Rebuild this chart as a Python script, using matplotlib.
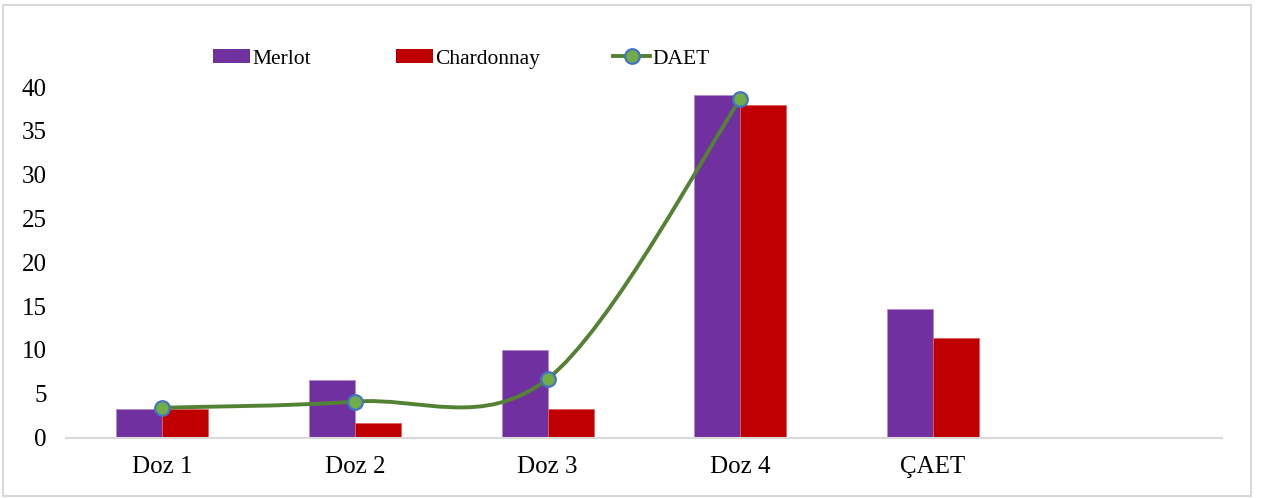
import numpy as np
import matplotlib.pyplot as plt
from matplotlib.path import Path
from matplotlib.patches import PathPatch, Rectangle
from matplotlib.lines import Line2D
from matplotlib.patches import Patch

plt.rcParams['font.family'] = ['Liberation Serif', 'DejaVu Serif']

# Data
categories = ['Doz 1', 'Doz 2', 'Doz 3', 'Doz 4', 'ÇAET', '']
merlot = [3.3, 6.6, 10.0, 39.1, 14.7]
chardonnay = [3.3, 1.6, 3.3, 37.9, 11.4]
daet = [3.4, 4.1, 6.7, 38.6]
series_names = ['Merlot', 'Chardonnay', 'DAET']

merlot_color = '#7030A0'
chard_color = '#C00000'
line_color = '#548235'
marker_face = '#70AD47'
marker_edge = '#4472C4'
FS = 18
LEG_FS = 15.5


def smooth_path(xs, ys):
    """Cubic Bezier path through the points (Catmull-Rom style smoothing)."""
    pts = np.column_stack([xs, ys]).astype(float)
    verts = [pts[0]]
    codes = [Path.MOVETO]
    n = len(pts)
    for i in range(n - 1):
        p0 = pts[i - 1] if i > 0 else pts[i]
        p1 = pts[i]
        p2 = pts[i + 1]
        p3 = pts[i + 2] if i + 2 < n else pts[i + 1]
        c1 = p1 + (p2 - p0) / 6.0
        c2 = p2 - (p3 - p1) / 6.0
        verts += [c1, c2, p2]
        codes += [Path.CURVE4] * 3
    return Path(verts, codes)


fig = plt.figure(figsize=(12.63, 4.98), dpi=100)
ax = fig.add_axes([66 / 1263, 1 - 437.5 / 498, (1222 - 66) / 1263, (437.5 - 87) / 498])

x = np.arange(len(categories))
bw = 0.2385
ax.bar(x[:len(merlot)] - bw / 2, merlot, bw, color=merlot_color,
       edgecolor='#b08cc8', linewidth=0.6, zorder=2)
ax.bar(x[:len(chardonnay)] + bw / 2, chardonnay, bw, color=chard_color,
       edgecolor='#e06060', linewidth=0.6, zorder=2)

# smoothed DAET line
xd = x[:len(daet)]
ax.add_patch(PathPatch(smooth_path(xd, daet), facecolor='none',
                       edgecolor=line_color, linewidth=2.8, zorder=3,
                       capstyle='round'))
ax.plot(xd, daet, linestyle='none', marker='o', markersize=10.5,
        markerfacecolor=marker_face, markeredgecolor=marker_edge,
        markeredgewidth=1.6, zorder=4)

ax.set_xlim(-0.5, len(categories) - 0.5)
ax.set_ylim(0, 40)
ax.set_yticks(range(0, 41, 5))
ax.set_xticks(x[:5])
ax.set_xticklabels(categories[:5])
ax.tick_params(axis='both', length=0, labelsize=FS)
ax.tick_params(axis='y', pad=14)
ax.tick_params(axis='x', pad=13)

for s in ['top', 'right', 'left']:
    ax.spines[s].set_visible(False)
ax.spines['bottom'].set_color('#d9d9d9')
ax.spines['bottom'].set_linewidth(1.5)
ax.patch.set_alpha(0)

# legend entries, one per series
handles = [
    Patch(facecolor=merlot_color, edgecolor='none'),
    Patch(facecolor=chard_color, edgecolor='none'),
    Line2D([0], [0], color=line_color, linewidth=2.8, marker='o', markersize=10.5,
           markerfacecolor=marker_face, markeredgecolor=marker_edge,
           markeredgewidth=1.6),
]
legend_x = [213, 396, 613]
for h, name, lx in zip(handles, series_names, legend_x):
    fig.legend([h], [name], loc='center left',
               bbox_to_anchor=(lx / 1263, 1 - 59 / 498), frameon=False,
               fontsize=LEG_FS, handlelength=1.72, handleheight=0.62,
               handletextpad=0.1, borderpad=0, borderaxespad=0)

# outer chart border
fig.patches.append(Rectangle((3 / 1263, 1 - 496 / 498), 1248 / 1263, 491 / 498,
                             transform=fig.transFigure, fill=False,
                             edgecolor='#d9d9d9', linewidth=1.5))

fig.savefig('out.png', dpi=100)
